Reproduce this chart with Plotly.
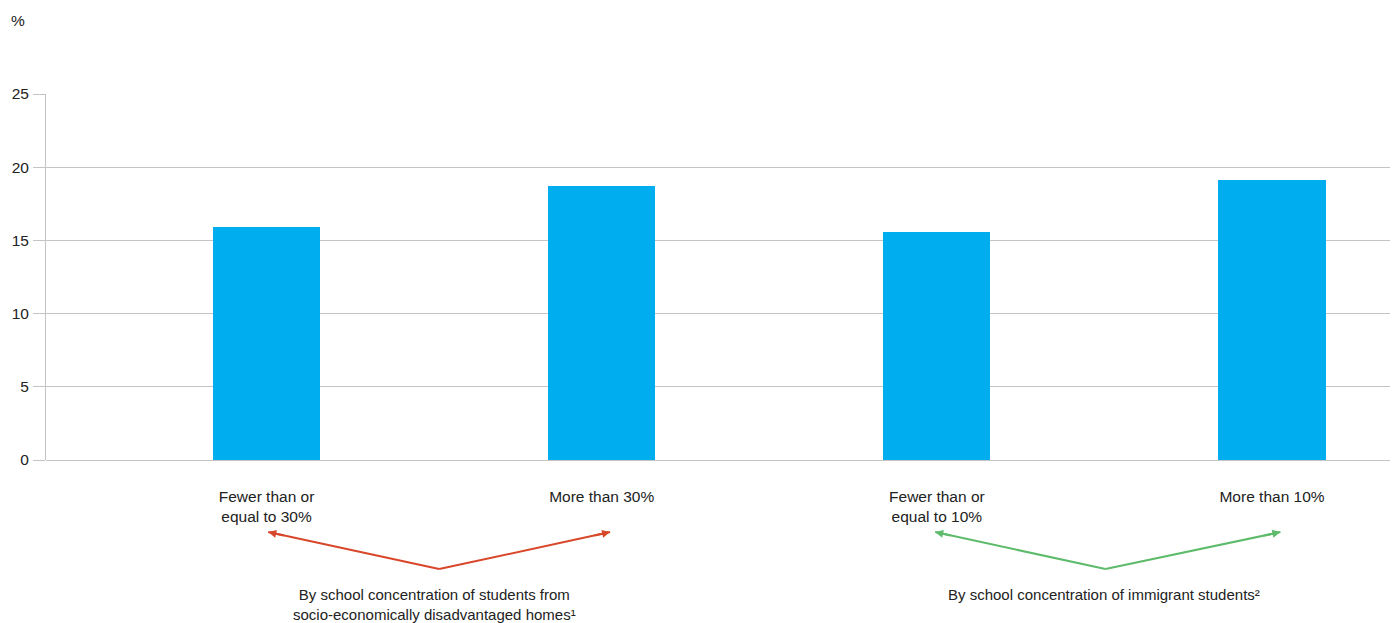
import plotly.graph_objects as go

categories = ["Fewer than or<br>equal to 30%", "More than 30%",
              "Fewer than or<br>equal to 10%", "More than 10%"]
values = [15.9, 18.7, 15.6, 19.1]
y_ticks = [0, 5, 10, 15, 20, 25]
group_labels = ["By school concentration of students from<br>socio-economically disadvantaged homes¹",
                "By school concentration of immigrant students²"]

x_pos = list(range(len(categories)))
FONT = "Liberation Sans, Arial, sans-serif"
TXT = "#222222"
GRID = "#c4c4c4"
FS = 15.5

fig = go.Figure()
fig.add_trace(go.Bar(x=x_pos, y=values, width=0.32, marker_color="#00AEEF",
                     marker_line_width=0, hoverinfo="y"))

fig.update_layout(
    width=1397, height=623,
    margin=dict(l=46, r=7, t=94, b=163),
    paper_bgcolor="white", plot_bgcolor="white",
    showlegend=False,
    font=dict(family=FONT, size=FS, color=TXT),
    bargap=0,
)
fig.update_xaxes(
    tickmode="array", tickvals=x_pos, ticktext=categories,
    range=[-0.658, 3.352], showgrid=False, zeroline=False, showline=False,
    ticks="", ticklabelstandoff=25,
    tickfont=dict(family=FONT, size=FS, color=TXT),
)
fig.update_yaxes(
    range=[0, 25], tickvals=y_ticks, showgrid=True, gridcolor=GRID, gridwidth=1,
    zeroline=True, zerolinecolor=GRID, zerolinewidth=1,
    showline=True, linecolor=GRID, linewidth=1,
    ticks="outside", ticklen=12, tickcolor=GRID, tickwidth=1,
    ticklabelstandoff=1,
    tickfont=dict(family=FONT, size=FS, color=TXT),
)

# "%" unit label
fig.add_annotation(text="%", xref="paper", yref="paper", x=-0.021, y=1.202,
                   showarrow=False, xanchor="center", yanchor="middle",
                   font=dict(size=FS, color=TXT))

# bracket arrows: (head x, vertex x, colour)
head_y, vertex_y = -0.197, -0.298
arrow_specs = [
    (0.005, 0.515, "#D9472B"), (1.025, 0.515, "#D9472B"),
    (1.995, 2.503, "#5DBB6B"), (3.025, 2.503, "#5DBB6B"),
]
for hx, vx, col in arrow_specs:
    fig.add_shape(type="line", xref="x", yref="paper", x0=vx, y0=vertex_y,
                  x1=hx, y1=head_y, line=dict(color=col, width=2))
    fig.add_annotation(x=hx, y=head_y, xref="x", yref="paper", text="",
                       showarrow=True, axref="x", ax=hx + (vx - hx) * 0.1,
                       ayref="pixel", ay=3.7,
                       arrowhead=2, arrowsize=0.8, arrowwidth=2, arrowcolor=col,
                       standoff=0, startstandoff=0)

# group labels
group_x = [0.5, 2.5]
for gx, lbl in zip(group_x, group_labels):
    fig.add_annotation(x=gx, y=-0.338, xref="x", yref="paper", text=lbl,
                       showarrow=False, xanchor="center", yanchor="top",
                       font=dict(size=15, color=TXT))

fig.write_html("out.html")
